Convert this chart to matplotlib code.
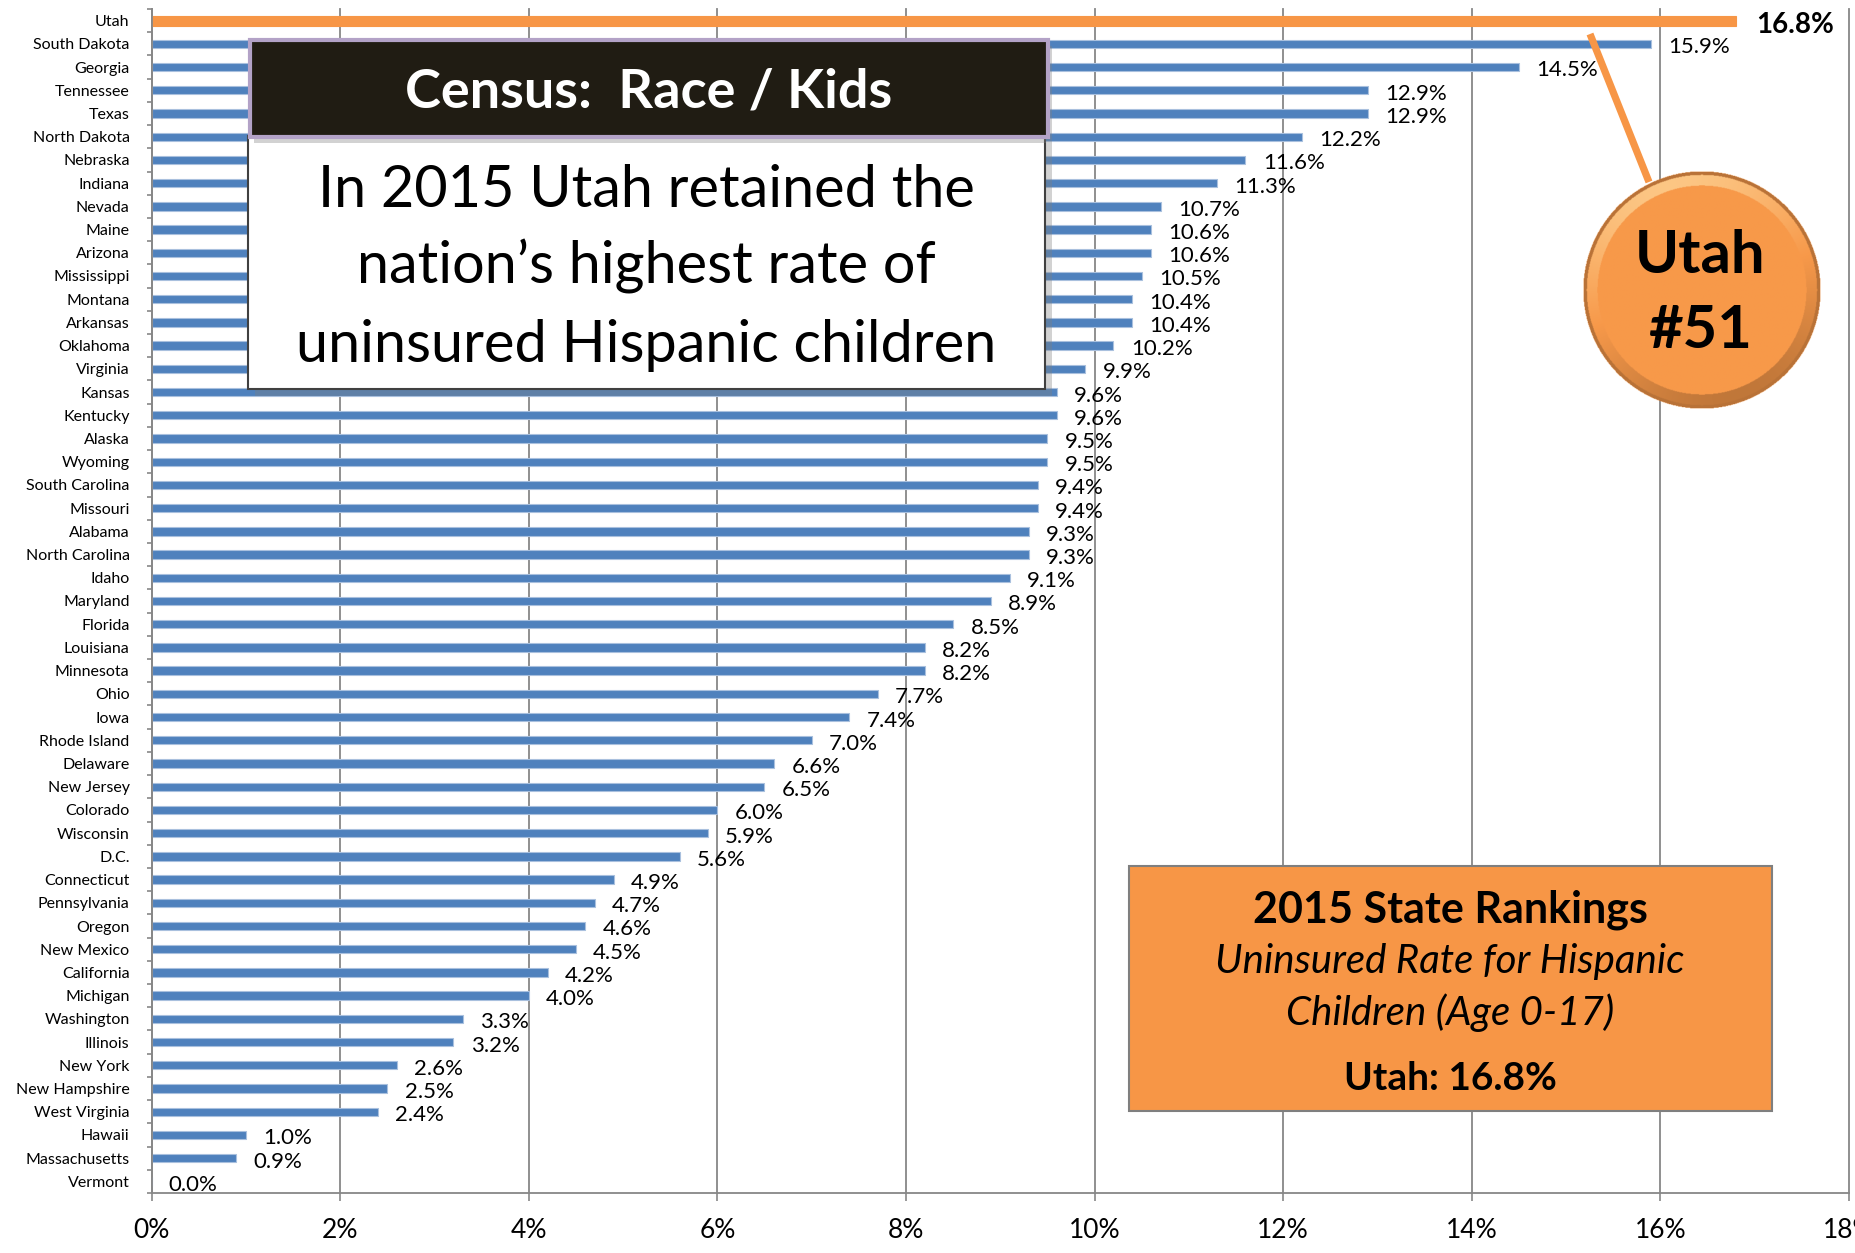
import numpy as np
import matplotlib.pyplot as plt
from matplotlib.patches import Rectangle

# data (2015 uninsured rate for Hispanic children, %)
states = ['Utah', 'South Dakota', 'Georgia', 'Tennessee', 'Texas', 'North Dakota',
          'Nebraska', 'Indiana', 'Nevada', 'Maine', 'Arizona', 'Mississippi',
          'Montana', 'Arkansas', 'Oklahoma', 'Virginia', 'Kansas', 'Kentucky',
          'Alaska', 'Wyoming', 'South Carolina', 'Missouri', 'Alabama',
          'North Carolina', 'Idaho', 'Maryland', 'Florida', 'Louisiana',
          'Minnesota', 'Ohio', 'Iowa', 'Rhode Island', 'Delaware', 'New Jersey',
          'Colorado', 'Wisconsin', 'D.C.', 'Connecticut', 'Pennsylvania', 'Oregon',
          'New Mexico', 'California', 'Michigan', 'Washington', 'Illinois',
          'New York', 'New Hampshire', 'West Virginia', 'Hawaii', 'Massachusetts',
          'Vermont']
rates = [16.8, 15.9, 14.5, 12.9, 12.9, 12.2, 11.6, 11.3, 10.7, 10.6, 10.6, 10.5,
         10.4, 10.4, 10.2, 9.9, 9.6, 9.6, 9.5, 9.5, 9.4, 9.4, 9.3, 9.3, 9.1, 8.9,
         8.5, 8.2, 8.2, 7.7, 7.4, 7.0, 6.6, 6.5, 6.0, 5.9, 5.6, 4.9, 4.7, 4.6, 4.5,
         4.2, 4.0, 3.3, 3.2, 2.6, 2.5, 2.4, 1.0, 0.9, 0.0]
highlight = 'Utah'
x_ticks = list(range(0, 19, 2))

# style
W, H = 1855, 1253
blue = '#4F81BD'
orange = '#F79646'
grid_gray = '#878787'
plt.rcParams['font.family'] = ['Lato', 'DejaVu Sans']

fig = plt.figure(figsize=(W / 100, H / 100), dpi=100)
ax = fig.add_axes([151.5 / W, 1 - 1193 / H, (1849 - 151.5) / W, (1193 - 9) / H])

# bars
y = np.arange(len(states))
colors = [orange if s == highlight else blue for s in states]
edges = [orange if s == highlight else '#A9C0DE' for s in states]
heights = [0.43 if s == highlight else 0.36 for s in states]
ax.barh(y, rates, height=heights, color=colors, edgecolor=edges, lw=0.8, zorder=2)

# data labels
for yi, s, v in zip(y, states, rates):
    if s == highlight:
        ax.annotate(f'{v:.1f}%', xy=(v, yi), xytext=(15, -8.6),
                    textcoords='offset points', ha='left', va='baseline',
                    fontsize=20, fontweight='bold')
    else:
        ax.annotate(f'{v:.1f}%', xy=(v, yi), xytext=(12.5, -6.8),
                    textcoords='offset points', ha='left', va='baseline',
                    fontsize=16)

# axes
ax.set_xlim(0, 18)
ax.set_ylim(len(states) - 0.5, -0.5)
ax.set_yticks(y)
ax.set_yticklabels(states, fontsize=11.5)
ax.set_yticks(np.arange(-0.5, len(states), 1), minor=True)
ax.tick_params(axis='y', which='major', length=0, pad=15.8)
ax.tick_params(axis='y', which='minor', length=3.6, width=1.2, color=grid_gray)
ax.set_xticks(x_ticks)
ax.set_xticklabels([f'{t}%' for t in x_ticks], fontsize=19)
ax.tick_params(axis='x', length=5.8, width=1.2, color=grid_gray, pad=12)
ax.grid(axis='x', color=grid_gray, lw=1.3)
ax.set_axisbelow(True)
for l in ax.get_xgridlines():
    l.set_clip_on(False)
for side in ['top', 'right']:
    ax.spines[side].set_visible(False)
for side in ['left', 'bottom']:
    ax.spines[side].set_color(grid_gray)
    ax.spines[side].set_linewidth(1.3)

# overlay in pixel coordinates for the callouts
ov = fig.add_axes([0, 0, 1, 1])
ov.set_xlim(0, W)
ov.set_ylim(H, 0)
ov.axis('off')

# title box
ov.add_patch(Rectangle((255, 143), 797, 253, fc='#7F7F7F', ec='none', alpha=0.35))
ov.add_patch(Rectangle((248, 136), 797, 253, fc='white', ec='#404040', lw=1.5))
ov.add_patch(Rectangle((254, 46), 798, 97, fc='#7F7F7F', ec='none', alpha=0.35))
ov.add_patch(Rectangle((250, 40), 798, 97, fc='#201C13', ec='#B3A2C7', lw=3))
ov.text(649, 108, 'Census:  Race / Kids', color='white', fontsize=39,
        fontweight='bold', ha='center', va='baseline')
body = ['In 2015 Utah retained the', 'nation\u2019s highest rate of',
        'uninsured Hispanic children']
for line, base in zip(body, [207, 283, 362]):
    ov.text(646, base, line, fontsize=41.5, ha='center', va='baseline')

# pointer from the Utah bar to the badge
ov.plot([1590, 1649], [34, 182], color=orange, lw=5.2, solid_capstyle='butt')

# shaded "Utah #51" badge
cx, cy, R = 1702, 290, 119
n = 400
g = np.linspace(-1, 1, n)
xx, yy = np.meshgrid(g, g)
d = np.sqrt(xx**2 + yy**2)
base = np.array([0.97, 0.60, 0.29])
img = np.zeros((n, n, 4))
img[..., :3] = base
light = -yy / np.maximum(d, 1e-6) * 0.6 - xx / np.maximum(d, 1e-6) * 0.2
rim = (d > 0.88) & (d <= 1)
lit = np.clip(light, 0, 1)[..., None]
dark = np.clip(-light, 0, 1)[..., None]
rim_col = base + lit * (np.array([1.0, 0.88, 0.65]) - base) - dark * 0.35 * base
img[..., :3] = np.where(rim[..., None], rim_col, img[..., :3])
edge = (d > 0.97) & (d <= 1)
img[..., :3] = np.where(edge[..., None], base * 0.75, img[..., :3])
img[..., 3] = (d <= 1).astype(float)
ov.imshow(np.clip(img, 0, 1), extent=(cx - R, cx + R, cy + R, cy - R),
          origin='upper', interpolation='bilinear', zorder=3)
ov.set_xlim(0, W)
ov.set_ylim(H, 0)
ov.set_aspect('auto')
ov.text(1700, 273, 'Utah', fontsize=43, fontweight='bold', ha='center',
        va='baseline', zorder=4)
ov.text(1700, 348, '#51', fontsize=43, fontweight='bold', ha='center',
        va='baseline', zorder=4)

# rankings box
ov.add_patch(Rectangle((1129, 866), 643, 245, fc=orange, ec='#7F7F7F', lw=1.5))
ov.text(1450, 922, '2015 State Rankings', fontsize=31, fontweight='bold',
        ha='center', va='baseline')
ov.text(1450, 973, 'Uninsured Rate for Hispanic', fontsize=29, style='italic',
        ha='center', va='baseline')
ov.text(1450, 1025, 'Children (Age 0-17)', fontsize=29, style='italic',
        ha='center', va='baseline')
ov.text(1450, 1090, 'Utah: 16.8%', fontsize=28, fontweight='bold',
        ha='center', va='baseline')

fig.savefig('out.png', dpi=100)
